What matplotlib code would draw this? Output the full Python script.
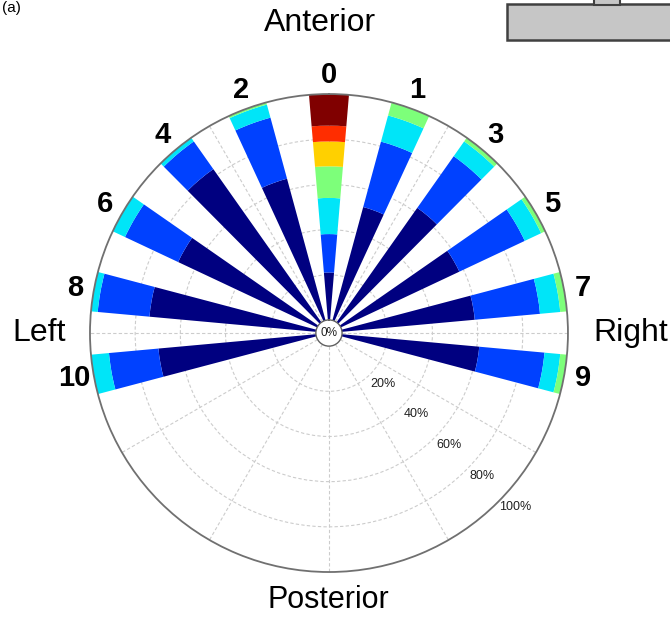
import numpy as np
import matplotlib.pyplot as plt
from matplotlib.patches import Rectangle

plt.rcParams['font.family'] = ['Liberation Sans', 'DejaVu Sans']

# direction labels and their angle from anterior (clockwise, degrees)
labels = ['0', '1', '2', '3', '4', '5', '6', '7', '8', '9', '10']
angles = [0, 20, -20, 40, -40, 60, -60, 80, -80, 100, -100]

# outer edge (%) of each coloured band, innermost first
bands = [
    [21, 38, 54, 68, 79, 86, 100],
    [52, 82, 94, 100],
    [65, 93, 99, 100],
    [62, 90, 98, 100],
    [83, 98, 100],
    [58, 90, 98, 100],
    [68, 94, 100],
    [59, 88, 97, 100],
    [74, 97, 100],
    [61, 90, 97, 100],
    [70, 92, 100],
]

# jet position used for band k
levels = [0.0, 0.19, 0.35, 0.5, 0.69, 0.86, 1.0]
rings = [20, 40, 60, 80, 100]

fig = plt.figure(figsize=(6.70, 6.17), dpi=100)
ax = fig.add_axes([0.1343, 0.0729, 0.7134, 0.7747], projection='polar')
ax.set_theta_zero_location('N')
ax.set_theta_direction(-1)
ax.set_ylim(0, 100)
ax.set_rorigin(-5.8)

cmap = plt.get_cmap('jet')
width = np.deg2rad(9.6)
for ang, edges in zip(angles, bands):
    th = np.deg2rad(ang)
    lo = 0
    for k, hi in enumerate(edges):
        ax.bar(th, hi - lo, width=width, bottom=lo, color=cmap(levels[k]),
               edgecolor='none', linewidth=0, zorder=2)
        lo = hi

# grid: spokes every 30 degrees, rings every 20 %
ax.set_thetagrids(np.arange(0, 360, 30), labels=[])
ax.set_rgrids(rings[:-1], labels=[])
ax.grid(True, color='#cccccc', linestyle=(0, (3, 2)), linewidth=0.8, zorder=0)
ax.set_axisbelow(True)
ax.spines['polar'].set_color('#707070')
ax.spines['polar'].set_linewidth(1.3)
ax.spines['inner'].set_color('#606060')
ax.spines['inner'].set_linewidth(1.0)

for lab, ang in zip(labels, angles):
    ax.text(np.deg2rad(ang), 108.5, lab, ha='center', va='center',
            fontsize=21, fontweight='bold', clip_on=False)

for v in rings:
    ax.text(np.deg2rad(133), v + 7, f'{v}%', ha='center', va='center',
            fontsize=9, color='#202020', clip_on=False)
ax.text(0, -5.8, '0%', ha='center', va='center', fontsize=8.5, color='#202020')

fig.text(0.478, 0.963, 'Anterior', ha='center', va='center', fontsize=23)
fig.text(0.49, 9 / 617, 'Posterior', ha='center', va='baseline', fontsize=22)
fig.text(0.058, 0.46, 'Left', ha='center', va='center', fontsize=23)
fig.text(0.942, 0.46, 'Right', ha='center', va='center', fontsize=23)
fig.text(0.003, 0.999, '(a)', ha='left', va='top', fontsize=11)

# panel bar in the top right corner
fig.patches.append(Rectangle((507 / 670, 1 - 40 / 617), 0.3, 36 / 617,
                             transform=fig.transFigure, facecolor='#c6c6c6',
                             edgecolor='#404040', linewidth=1.8))
fig.patches.append(Rectangle((594 / 670, 1 - 5 / 617), 26 / 670, 0.02,
                             transform=fig.transFigure, facecolor='#c6c6c6',
                             edgecolor='#404040', linewidth=1.5))

fig.savefig('out.png', dpi=100)
